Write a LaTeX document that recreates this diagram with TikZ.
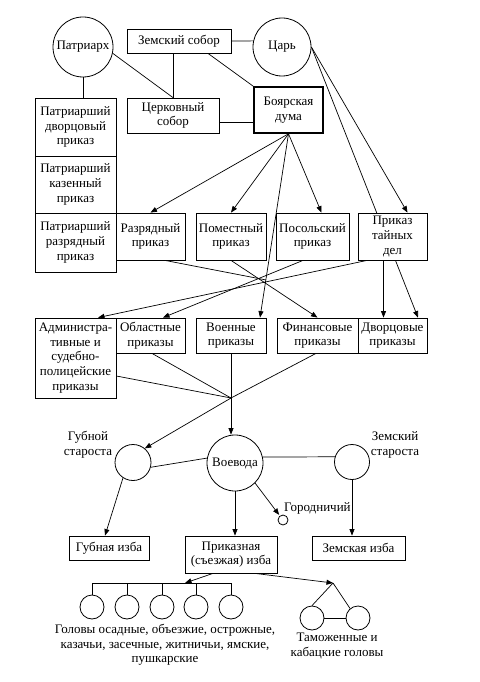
\documentclass[tikz,border=0pt]{standalone}
\usepackage{fontspec}
\setmainfont{Liberation Serif}
\usetikzlibrary{arrows.meta,calc,backgrounds}
\begin{document}
\begin{tikzpicture}[x=1pt,y=-1pt,
  every node/.style={font=\fontsize{13}{14.6}\selectfont, inner sep=0pt, align=center, text=black},
  box/.style={draw, fill=white, line width=0.8pt},
  circ/.style={draw, fill=white, circle, line width=0.8pt},
  conn/.style={line width=0.7pt},
  arr/.style={conn, -{Triangle[length=6.5pt,width=5pt]}},
]
\useasboundingbox (0,0) rectangle (479,682);
% top
\node[circ, minimum size=60pt] (patr) at (83,47) {Патриарх};
\node[box, minimum width=104pt, minimum height=24pt] (zs) at (179,41) {Земский собор};
\node[circ, minimum size=58pt] (tsar) at (282,47) {Царь};
\node[box, minimum width=81pt, minimum height=58pt] (pdp) at (75.5,127) {Патриарший\\дворцовый\\приказ};
\node[box, minimum width=81pt, minimum height=57pt] (pkp) at (75.5,184.5) {Патриарший\\казенный\\приказ};
\node[box, minimum width=81pt, minimum height=59pt] (prp) at (75.5,242.5) {Патриарший\\разрядный\\приказ};
\node[box, minimum width=92pt, minimum height=35pt] (cs) at (173,115.5) {Церковный\\собор};
\node[box, line width=1.6pt, minimum width=69pt, minimum height=46pt] (bd) at (288.5,110) {Боярская\\дума};
% row 2
\node[box, minimum width=69pt, minimum height=47pt] (razr) at (150.5,236.5) {Разрядный\\приказ};
\node[box, minimum width=70pt, minimum height=47pt] (pom) at (231,236.5) {Поместный\\приказ};
\node[box, minimum width=73pt, minimum height=47pt] (pos) at (312.5,236.5) {Посольский\\приказ};
\node[box, minimum width=69pt, minimum height=47pt] (ptd) at (392.5,236.5) {Приказ\\тайных\\дел};
% row 3
\node[box, minimum width=81pt, minimum height=80pt] (adm) at (75.5,358) {Администра-\\тивные и\\судебно-\\полицейские\\приказы};
\node[box, minimum width=69pt, minimum height=35pt] (obl) at (150.5,335.5) {Областные\\приказы};
\node[box, minimum width=70pt, minimum height=35pt] (voen) at (231,335.5) {Военные\\приказы};
\node[box, minimum width=81pt, minimum height=35pt] (fin) at (317.5,335.5) {Финансовые\\приказы};
\node[box, minimum width=69pt, minimum height=35pt] (dvor) at (392.5,335.5) {Дворцовые\\приказы};
% row 4
\node[circ, minimum size=36pt] (gub) at (133,462.5) {};
\node[circ, minimum size=56pt] (voev) at (235,463) {Воевода};
\node[circ, minimum size=35pt] (zemst) at (352,462) {};
\node[circ, minimum size=10pt] (gor) at (283,520) {};
\node (gublab) at (88,445) {Губной\\староста};
\node (zemlab) at (395,445) {Земский\\староста};
\node[anchor=west] (gorlab) at (284,508) {Городничий};
% row 5
\node[box, minimum width=80pt, minimum height=24pt] (gubizba) at (109,548) {Губная изба};
\node[box, minimum width=92pt, minimum height=37pt] (prizba) at (231,554.5) {Приказная\\(съезжая) изба};
\node[box, minimum width=93pt, minimum height=24pt] (zemizba) at (358.5,548) {Земская изба};
% bottom
\foreach \n/\x in {g1/92,g2/127,g3/162,g4/196,g5/231}
  \node[circ, minimum size=24pt] (\n) at (\x,607) {};
\node[circ, minimum size=24pt] (t1) at (312,618) {};
\node[circ, minimum size=24pt] (t2) at (358,618) {};
\node (goltext) at (165,645) {Головы осадные, объезжие, острожные,\\казачьи, засечные, житничьи, ямские,\\пушкарские};
\node (tamtext) at (337,646) {Таможенные и\\кабацкие головы};
\coordinate (X) at ($(bd.south)!0.795!([xshift=29pt]voen.north)$);
\coordinate (J) at (231,398);
\coordinate (busa) at (185,583);
\coordinate (T) at (333,583);
\begin{scope}[on background layer]
\fill[white] (0,0) rectangle (479,682);
\draw[conn] (zs.east) -- (tsar.168);
\draw[conn] (patr.south) -- (patr.south |- pdp.north);
\draw[conn] (patr.-12) -- (cs.north);
\draw[conn] (cs.north |- zs.south) -- (cs.north);
\draw[conn] ([xshift=29pt]zs.south) -- (bd.north west);
\draw[conn] ([yshift=-6.5pt]cs.east) -- ([yshift=-6.5pt]cs.east -| bd.west);
\draw[arr] (bd.south) -- (razr.north);
\draw[arr] (bd.south) -- (pom.north);
\draw[arr] (bd.south) -- ([xshift=9pt]pos.north);
\draw[arr] (bd.south) -- ([xshift=29pt]voen.north);
\draw[arr] (tsar.east) -- ([xshift=15pt]ptd.north);
\draw[arr] (tsar.east) -- ([xshift=25.5pt]dvor.north);
\draw[arr] ([xshift=-9pt]ptd.south) -- ([xshift=-9pt]dvor.north);
\draw[arr] ([xshift=-25.5pt]ptd.south) -- ([xshift=22.5pt]adm.north);
\draw[arr] ([xshift=-9.5pt]pos.south) -- ([xshift=12.5pt]obl.north);
\draw[arr] (pom.south) -- (fin.north);
\draw[conn] ([xshift=14.5pt]razr.south) -- (X);
\draw[conn] ([xshift=1.5pt]obl.south) -- (J);
\draw[conn] ([yshift=-18pt]adm.east) -- (J);
\draw[conn] ([xshift=-1.5pt]fin.south) -- (J);
\draw[conn] (voen.south) -- (J);
\draw[arr] (J) -- (J |- voev.north);
\draw[arr] (J) -- (gub.50);
\draw[conn] (gub.-15) -- (voev.170);
\draw[conn] (voev.12) -- (zemst.163);
\draw[arr] (gub.237) -- ([xshift=-4pt]gubizba.north);
\draw[arr] (voev.south) -- (voev.south |- prizba.north);
\draw[arr, shorten >=1pt] (voev.-45) -- (gor);
\draw[arr] (zemst.south) -- (zemst.south |- zemizba.north);
\draw[arr] ([xshift=-18pt]prizba.south) -- (busa);
\draw[conn] (g1.north |- busa) -- (g5.north |- busa);
\foreach \n in {g1,g2,g3,g4,g5}
  \draw[conn] (\n.north |- busa) -- (\n.north);
\draw[arr] ([xshift=24pt]prizba.south) -- (T);
\draw[conn] (T) -- (t1.north);
\draw[conn] (T) -- (t2.130);
\draw[conn] (t1) -- (t2);
\end{scope}
\end{tikzpicture}
\end{document}
